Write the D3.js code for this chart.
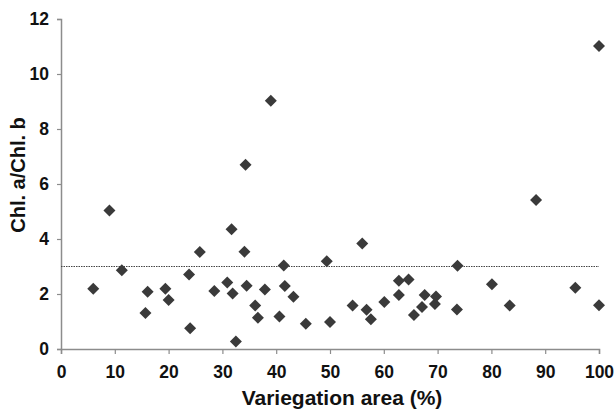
<!DOCTYPE html>
<html>
<head>
<meta charset="utf-8">
<script src="https://cdn.jsdelivr.net/npm/d3@7"></script>
<style>
  body { margin: 0; background: #fff; }
  text { font-family: "Liberation Sans", Arial, sans-serif; font-weight: bold; fill: #111; }
</style>
</head>
<body>
<div id="chart"></div>
<script>
// data
var area = [6, 9, 11.3, 15.7, 16.1, 19.4, 20, 23.8, 24, 25.8, 28.5, 30.9, 31.7, 31.9, 32.5,
            34.1, 34.3, 34.5, 36.1, 36.6, 37.9, 39, 40.6, 41.4, 41.6, 43.2, 45.5, 49.4, 50,
            54.2, 56, 56.8, 57.6, 60.1, 62.8, 62.8, 64.6, 65.6, 67.1, 67.6, 69.5, 69.7,
            73.7, 73.6, 80.1, 83.4, 88.3, 95.6, 100, 100];
var ratio = [2.19, 5.04, 2.86, 1.31, 2.08, 2.19, 1.78, 2.71, 0.75, 3.53, 2.11, 2.42, 4.35, 2.02, 0.27,
             3.54, 6.7, 2.3, 1.58, 1.14, 2.16, 9.03, 1.18, 3.04, 2.29, 1.9, 0.92, 3.19, 0.98,
             1.58, 3.84, 1.43, 1.08, 1.71, 2.48, 1.96, 2.53, 1.24, 1.53, 1.96, 1.64, 1.91,
             3.03, 1.44, 2.35, 1.58, 5.42, 2.23, 1.59, 11.02];
var xTicks = [0, 10, 20, 30, 40, 50, 60, 70, 80, 90, 100];
var yTicks = [0, 2, 4, 6, 8, 10, 12];
var refLine = 3;

var width = 614, height = 410;
var margin = {left: 61, right: 15, top: 19, bottom: 61};

var svg = d3.select("#chart").append("svg")
    .attr("width", width)
    .attr("height", height);

var x = d3.scaleLinear().domain([0, 100]).range([margin.left, width - margin.right]);
var y = d3.scaleLinear().domain([0, 12]).range([height - margin.bottom, margin.top]);

// axes
var xAxis = svg.append("g")
    .attr("transform", "translate(0," + y(0) + ")")
    .call(d3.axisBottom(x).tickValues(xTicks).tickSize(5).tickPadding(12));

var yAxis = svg.append("g")
    .attr("transform", "translate(" + x(0) + ",0)")
    .call(d3.axisLeft(y).tickValues(yTicks).tickSize(4).tickPadding(8));

[xAxis, yAxis].forEach(function (g) {
    g.select(".domain").attr("stroke", "#8c8c8c").attr("stroke-width", 1.5);
    g.selectAll(".tick line").attr("stroke", "#8c8c8c").attr("stroke-width", 1.2);
    g.selectAll(".tick text")
        .attr("font-size", 17.5)
        .attr("font-family", "'Liberation Sans', Arial, sans-serif")
        .attr("font-weight", "bold")
        .attr("fill", "#111");
});

// dotted reference line
svg.append("line")
    .attr("x1", x(0))
    .attr("x2", x(100))
    .attr("y1", y(refLine))
    .attr("y2", y(refLine))
    .attr("stroke", "#444")
    .attr("stroke-width", 1.2)
    .attr("stroke-dasharray", "1.5,1");

// diamonds
var diamond = d3.symbol().type(d3.symbolSquare).size(72);
svg.append("g").selectAll("path")
    .data(area)
    .enter()
    .append("path")
    .attr("d", diamond)
    .attr("transform", function (d, i) {
        return "translate(" + x(d) + "," + y(ratio[i]) + ") rotate(45)";
    })
    .attr("fill", "#3a3a3a");

// axis titles
svg.append("text")
    .attr("x", 342)
    .attr("y", 405)
    .attr("text-anchor", "middle")
    .attr("font-size", 21)
    .text("Variegation area (%)");

svg.append("text")
    .attr("transform", "translate(25,175) rotate(-90)")
    .attr("text-anchor", "middle")
    .attr("font-size", 20)
    .text("Chl. a/Chl. b");
</script>
</body>
</html>
